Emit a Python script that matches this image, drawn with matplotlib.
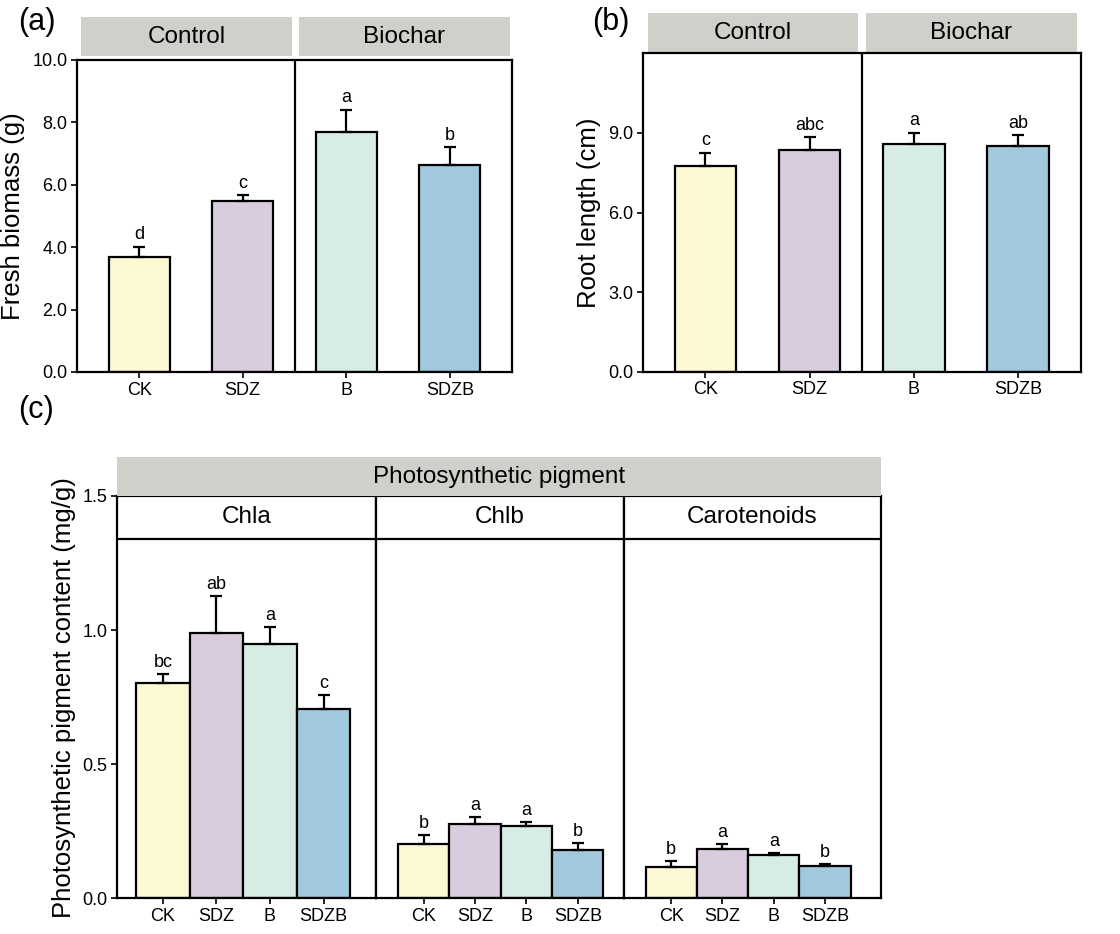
import numpy as np
import matplotlib
matplotlib.use('Agg')
import matplotlib.pyplot as plt
from matplotlib.patches import Rectangle

plt.rcParams['font.family'] = ['Liberation Sans', 'DejaVu Sans']

treatments = ['CK', 'SDZ', 'B', 'SDZB']
colors = ['#FDF8D4', '#D9CCDF', '#D7EDE4', '#A1C8DC']
strip_gray = '#D0D0CB'

# (a) fresh biomass
biomass = [3.69, 5.48, 7.69, 6.65]
biomass_err = [0.31, 0.18, 0.72, 0.55]
biomass_sig = ['d', 'c', 'a', 'b']

# (b) root length
root = [7.74, 8.34, 8.58, 8.52]
root_err = [0.52, 0.51, 0.43, 0.39]
root_sig = ['c', 'abc', 'a', 'ab']

# (c) photosynthetic pigments
pigments = ['Chla', 'Chlb', 'Carotenoids']
chla = [0.804, 0.988, 0.949, 0.707]
chla_err = [0.031, 0.139, 0.063, 0.052]
chla_sig = ['bc', 'ab', 'a', 'c']
chlb = [0.203, 0.276, 0.270, 0.181]
chlb_err = [0.034, 0.028, 0.013, 0.026]
chlb_sig = ['b', 'a', 'a', 'b']
carot = [0.118, 0.185, 0.160, 0.119]
carot_err = [0.022, 0.018, 0.008, 0.008]
carot_sig = ['b', 'a', 'a', 'b']

LW = 1.6
TICK_FS = 13
LAB_FS = 18.5
STRIP_FS = 17.5


def style_axes(ax):
    for s in ax.spines.values():
        s.set_linewidth(LW)
    ax.tick_params(axis='both', direction='out', length=4, width=1.2,
                   labelsize=TICK_FS, pad=3)


def draw_bars(ax, x, vals, errs, sigs, width, off):
    ax.bar(x, vals, width=width, color=colors, edgecolor='black',
           linewidth=LW, zorder=2)
    ax.errorbar(x, vals, yerr=[np.zeros(len(errs)), errs], fmt='none',
                ecolor='black', elinewidth=LW, capsize=4, capthick=LW, zorder=3)
    for xi, v, e, s in zip(x, vals, errs, sigs):
        ax.text(xi, v + e + off, s, ha='center', va='bottom', fontsize=TICK_FS)


fig = plt.figure(figsize=(11.2, 9.34), dpi=100)

# ---------------- (a) ----------------
axa = fig.add_axes([77 / 1120, 1 - 372 / 934, 435 / 1120, 312 / 934])
xa = np.arange(4)
draw_bars(axa, xa, biomass, biomass_err, biomass_sig, 0.59, 0.12)
axa.set_xlim(-0.6, 3.6)
axa.set_ylim(0, 10)
axa.set_yticks([0, 2, 4, 6, 8, 10])
axa.set_yticklabels(['%.1f' % v for v in [0, 2, 4, 6, 8, 10]])
axa.set_xticks(xa)
axa.set_xticklabels(treatments)
axa.axvline(1.5, color='black', linewidth=LW)
axa.set_ylabel('Fresh biomass (g)', fontsize=LAB_FS, labelpad=5)
style_axes(axa)
for x0, x1, lab in [(0.009, 0.494, 'Control'), (0.510, 0.995, 'Biochar')]:
    axa.add_patch(Rectangle((x0, 1.013), x1 - x0, 0.125, transform=axa.transAxes,
                            facecolor=strip_gray, edgecolor='none', clip_on=False))
    axa.text((x0 + x1) / 2, 1.075, lab, transform=axa.transAxes, ha='center',
             va='center', fontsize=STRIP_FS)
fig.text(18 / 1120, 1 - 22 / 934, '(a)', fontsize=22, va='center')

# ---------------- (b) ----------------
axb = fig.add_axes([642.7 / 1120, 1 - 371.7 / 934, 438 / 1120, 318.4 / 934])
draw_bars(axb, xa, root, root_err, root_sig, 0.59, 0.12)
axb.set_xlim(-0.6, 3.6)
axb.set_ylim(0, 12)
axb.set_yticks([0, 3, 6, 9])
axb.set_yticklabels(['%.1f' % v for v in [0, 3, 6, 9]])
axb.set_xticks(xa)
axb.set_xticklabels(treatments)
axb.axvline(1.5, color='black', linewidth=LW)
axb.set_ylabel('Root length (cm)', fontsize=LAB_FS, labelpad=5)
style_axes(axb)
for x0, x1, lab in [(0.011, 0.491, 'Control'), (0.510, 0.991, 'Biochar')]:
    axb.add_patch(Rectangle((x0, 1.005), x1 - x0, 0.121, transform=axb.transAxes,
                            facecolor=strip_gray, edgecolor='none', clip_on=False))
    axb.text((x0 + x1) / 2, 1.065, lab, transform=axb.transAxes, ha='center',
             va='center', fontsize=STRIP_FS)
fig.text(592 / 1120, 1 - 22 / 934, '(b)', fontsize=22, va='center')

# ---------------- (c) ----------------
bottom_c = 1 - 898.3 / 934
height_c = 402.3 / 934
facet_px = [(117.3, 376), (376, 624), (624, 881)]
facet_xlim = [(-0.85, 3.98), (-0.93, 3.9), (-0.92, 4.09)]
facet_data = [(chla, chla_err, chla_sig), (chlb, chlb_err, chlb_sig),
              (carot, carot_err, carot_sig)]
for i, ((p0, p1), xl, (v, e, s), name) in enumerate(
        zip(facet_px, facet_xlim, facet_data, pigments)):
    ax = fig.add_axes([p0 / 1120, bottom_c, (p1 - p0) / 1120, height_c])
    draw_bars(ax, xa, v, e, s, 1.0, 0.012)
    ax.set_xlim(*xl)
    ax.set_ylim(0, 1.5)
    ax.set_xticks(xa)
    ax.set_xticklabels(treatments)
    ax.axhline(1.339, color='black', linewidth=LW)
    ax.text(np.mean(xl), 1.42, name, ha='center', va='center', fontsize=STRIP_FS)
    style_axes(ax)
    if i == 0:
        ax.set_yticks([0, 0.5, 1.0, 1.5])
        ax.set_yticklabels(['%.1f' % t for t in [0, 0.5, 1.0, 1.5]])
        ax.set_ylabel('Photosynthetic pigment content (mg/g)', fontsize=LAB_FS,
                      labelpad=5)
    else:
        ax.tick_params(axis='y', left=False, labelleft=False)

fig.add_artist(Rectangle((117.3 / 1120, 1 - 496 / 934), (881 - 117.3) / 1120,
                         39.3 / 934, transform=fig.transFigure,
                         facecolor=strip_gray, edgecolor='none'))
fig.text((117.3 + 881) / 2 / 1120, 1 - 477 / 934, 'Photosynthetic pigment',
         ha='center', va='center', fontsize=STRIP_FS)
fig.text(18 / 1120, 1 - 410 / 934, '(c)', fontsize=22, va='center')

fig.savefig('out.png', dpi=100)
